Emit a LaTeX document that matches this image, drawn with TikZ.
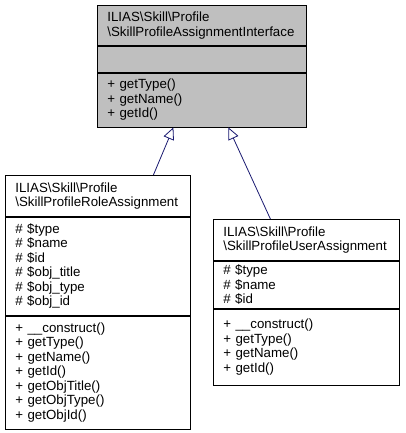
\documentclass[tikz,border=0pt]{standalone}
\usepackage{fontspec}
\setmainfont{Liberation Sans}
\usetikzlibrary{positioning,arrows.meta}
\definecolor{edgeblue}{RGB}{25,25,112}
\definecolor{ifacegray}{RGB}{191,191,191}
\newcommand{\bs}{\textbackslash}

\begin{document}
\begin{tikzpicture}[x=1pt,y=1pt]
	\tikzset{part/.style={draw=black, line width=0.8pt, text width=#1, align=left,
	    inner xsep=10pt, inner ysep=0pt, font=\fontsize{13.3}{14.5}\selectfont}}
	\tikzset{realizes/.style={draw=edgeblue, line width=0.8pt,
	    -{Triangle[open, length=12pt, width=11pt]}}}
	\useasboundingbox (0,0) rectangle (405,433);

	    \node[part=189pt, fill=ifacegray, minimum height=40pt, anchor=north west] (iface) at (97,428)
	        {ILIAS\bs Skill\bs Profile\\\bs SkillProfileAssignmentInterface};
	    \node[part=189pt, fill=ifacegray, minimum height=26pt, below=0pt of iface] (ifaceattr) {};
	    \node[part=189pt, fill=ifacegray, minimum height=54pt, below=0pt of ifaceattr] (ifaceops)
	        {+ getType()\\+ getName()\\+ getId()};

	    \node[part=165pt, minimum height=41pt, anchor=north west] (role) at (5,258)
	        {ILIAS\bs Skill\bs Profile\\\bs SkillProfileRoleAssignment};
	    \node[part=165pt, minimum height=98pt, below=0pt of role] (roleattr)
	        {\# \$type\\\# \$name\\\# \$id\\\# \$obj\_title\\\# \$obj\_type\\\# \$obj\_id};
	    \node[part=165pt, minimum height=113pt, below=0pt of roleattr] (roleops)
	        {+ \_\_construct()\\+ getType()\\+ getName()\\+ getId()\\+ getObjTitle()\\+ getObjType()\\+ getObjId()};

	    \node[part=166pt, minimum height=41pt, anchor=north west] (user) at (213,214)
	        {ILIAS\bs Skill\bs Profile\\\bs SkillProfileUserAssignment};
	    \node[part=166pt, minimum height=47pt, below=0pt of user] (userattr)
	        {\# \$type\\\# \$name\\\# \$id};
	    \node[part=166pt, minimum height=76pt, below=0pt of userattr] (userops)
	        {+ \_\_construct()\\+ getType()\\+ getName()\\+ getId()};

	    \draw[realizes] ([xshift=55.5pt]role.north) -- ([xshift=-28.5pt]ifaceops.south);
	    \draw[realizes] ([xshift=-36pt]user.north) -- ([xshift=26.5pt]ifaceops.south);

\end{tikzpicture}
\end{document}
